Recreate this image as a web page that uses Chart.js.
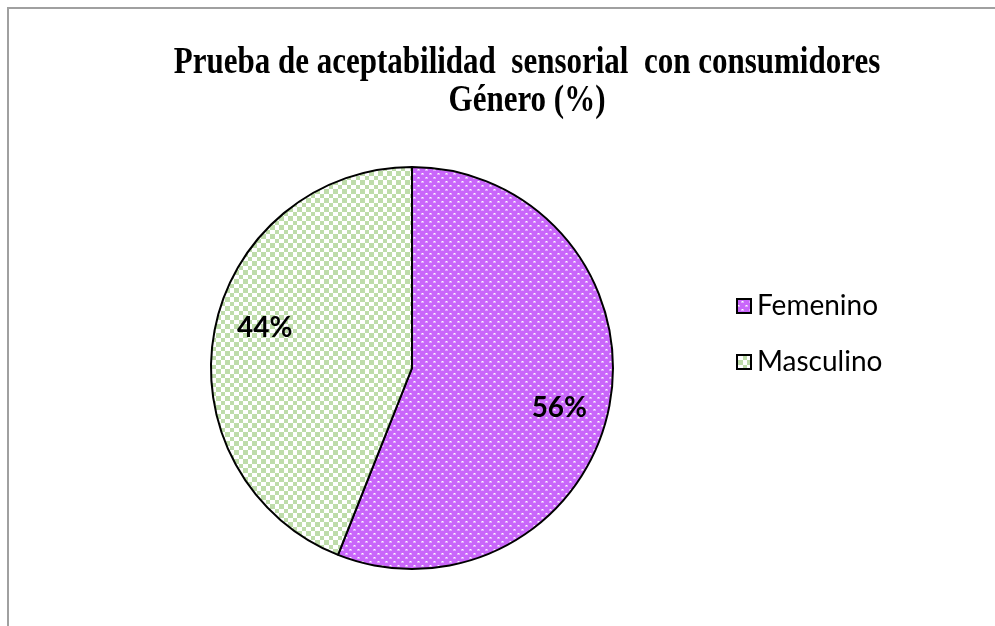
<!DOCTYPE html>
<html>
<head>
<meta charset="utf-8">
<script src="https://cdn.jsdelivr.net/npm/chart.js@4.4.1/dist/chart.umd.min.js"></script>
<style>
  html, body { margin: 0; padding: 0; background: #fff; }
  #c { display: block; }
</style>
</head>
<body>
<canvas id="c" width="995" height="626"></canvas>
<script>
const titleLines = ['Prueba de aceptabilidad  sensorial  con consumidores', 'Género (%)'];
const categories = ['Femenino', 'Masculino'];
const values = [56, 44];
const valueLabels = ['56%', '44%'];

function dotPattern() {
  const t = document.createElement('canvas');
  t.width = 8; t.height = 8;
  const g = t.getContext('2d');
  g.fillStyle = '#C966FA';
  g.fillRect(0, 0, 8, 8);
  g.fillStyle = 'rgba(255,255,255,0.45)';
  g.fillRect(1, 1, 3, 2); g.fillRect(5, 5, 3, 2);
  g.fillStyle = '#ffffff';
  g.fillRect(2, 1, 1, 1); g.fillRect(6, 5, 1, 1);
  return g.createPattern(t, 'repeat');
}
function checkPattern() {
  const t = document.createElement('canvas');
  t.width = 9; t.height = 9;
  const g = t.getContext('2d');
  g.fillStyle = '#ffffff';
  g.fillRect(0, 0, 9, 9);
  g.fillStyle = '#BEDCAA';
  g.fillRect(0, 0, 5, 5); g.fillRect(5, 5, 4, 4);
  return g.createPattern(t, 'repeat');
}
const fills = [dotPattern(), checkPattern()];

const framePlugin = {
  id: 'frame',
  beforeDraw(chart) {
    const ctx = chart.ctx;
    ctx.save();
    ctx.fillStyle = '#ffffff';
    ctx.fillRect(0, 0, chart.width, chart.height);
    ctx.strokeStyle = '#a0a0a0';
    ctx.lineWidth = 2;
    ctx.beginPath();
    ctx.moveTo(8, chart.height);
    ctx.lineTo(8, 8);
    ctx.lineTo(chart.width, 8);
    ctx.stroke();
    ctx.restore();
  },
  afterDraw(chart) {
    const ctx = chart.ctx;
    ctx.save();
    // title
    ctx.fillStyle = '#000';
    ctx.textAlign = 'center';
    ctx.textBaseline = 'alphabetic';
    ctx.font = 'bold 31px "Liberation Serif", "Times New Roman", serif';
    const ys = [73, 111];
    titleLines.forEach((line, i) => {
      ctx.save();
      ctx.translate(527, ys[i]);
      ctx.scale(1, 1.2);
      ctx.fillText(line, 0, 0);
      ctx.restore();
    });
    // legend
    const ds = chart.data.datasets[0];
    ctx.textAlign = 'left';
    ctx.font = '28px Lato, "Liberation Sans", sans-serif';
    const legendY = [306, 362];
    chart.data.labels.forEach((lab, i) => {
      const y = legendY[i];
      ctx.fillStyle = ds.backgroundColor[i];
      ctx.fillRect(737, y - 7, 14, 14);
      ctx.strokeStyle = '#000';
      ctx.lineWidth = 2;
      ctx.strokeRect(737, y - 7, 14, 14);
      ctx.fillStyle = '#000';
      ctx.textBaseline = 'middle';
      ctx.fillText(lab, 757, y);
    });
    ctx.restore();
  }
};

const labelPlugin = {
  id: 'sliceLabels',
  afterDatasetsDraw(chart) {
    const ctx = chart.ctx;
    const meta = chart.getDatasetMeta(0);
    ctx.save();
    ctx.fillStyle = '#000';
    ctx.font = 'bold 28px Lato, "Liberation Sans", sans-serif';
    ctx.textAlign = 'center';
    ctx.textBaseline = 'middle';
    meta.data.forEach((arc, i) => {
      const p = arc.getProps(['x', 'y', 'startAngle', 'endAngle', 'outerRadius'], true);
      const mid = (p.startAngle + p.endAngle) / 2 + 4.5 * Math.PI / 180;
      const r = p.outerRadius * 0.76;
      ctx.fillText(valueLabels[i], p.x + Math.cos(mid) * r, p.y + Math.sin(mid) * r);
    });
    ctx.restore();
  }
};

new Chart(document.getElementById('c'), {
  type: 'pie',
  data: {
    labels: categories,
    datasets: [{
      data: values,
      backgroundColor: fills,
      borderColor: '#000000',
      borderWidth: 2
    }]
  },
  options: {
    responsive: false,
    animation: false,
    devicePixelRatio: 1,
    layout: { padding: { left: 210, top: 166, right: 381, bottom: 56 } },
    plugins: {
      legend: { display: false },
      title: { display: false },
      tooltip: { enabled: false }
    }
  },
  plugins: [framePlugin, labelPlugin]
});
</script>
</body>
</html>
